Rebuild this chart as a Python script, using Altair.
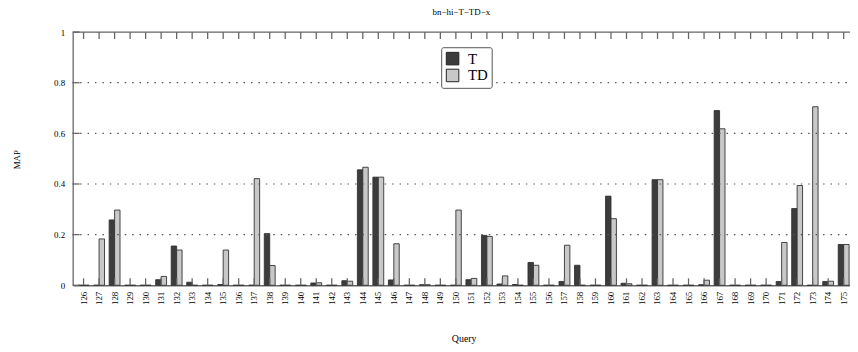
import altair as alt
import pandas as pd

# ---------------- data ----------------
queries = [str(q) for q in range(126, 176)]
series = ["T", "TD"]
t_values = [0, 0, 0.258, 0, 0, 0.022, 0.155, 0.012, 0, 0.003,
            0, 0, 0.204, 0, 0, 0.009, 0, 0.018, 0.456, 0.427,
            0.021, 0, 0.002, 0, 0, 0.022, 0.197, 0.005, 0.003, 0.090,
            0, 0.015, 0.079, 0, 0.352, 0.008, 0, 0.417, 0, 0,
            0.002, 0.690, 0, 0, 0, 0.015, 0.303, 0, 0.015, 0.161]
td_values = [0, 0.183, 0.297, 0, 0, 0.035, 0.139, 0, 0, 0.139,
             0, 0.421, 0.078, 0, 0, 0.010, 0, 0.016, 0.466, 0.427,
             0.164, 0, 0.002, 0, 0.297, 0.027, 0.193, 0.037, 0, 0.079,
             0, 0.158, 0, 0, 0.263, 0.006, 0, 0.417, 0, 0,
             0.020, 0.618, 0, 0, 0, 0.169, 0.394, 0.705, 0.016, 0.161]
y_ticks = [0, 0.2, 0.4, 0.6, 0.8, 1.0]
grid_values = [0.2, 0.4, 0.6, 0.8]

# ---------------- layout ----------------
W = 784.7
H = 255.6
FONT = "Liberation Serif"
AXIS_COLOR = "#666666"

bars_df = pd.DataFrame({
    "Query": queries * 2,
    "Series": ["T"] * len(queries) + ["TD"] * len(queries),
    "MAP": t_values + td_values,
})
q_df = pd.DataFrame({"Query": queries})
yt_df = pd.DataFrame({"MAP": y_ticks})
grid_df = pd.DataFrame({"MAP": grid_values})
one_df = pd.DataFrame({"a": [0]})

x_scale = alt.Scale(domain=queries, range=[0, 789.3], paddingInner=0.3, paddingOuter=0.352)
y_scale = alt.Scale(domain=[0, 1], nice=False, zero=True)

x_axis = alt.Axis(title="Query", labelAngle=-90, ticks=False, tickSize=0,
                  labelPadding=6, labelFont=FONT, labelFontSize=9,
                  labelColor="black", domainColor=AXIS_COLOR, domainWidth=1.3,
                  titleFont=FONT, titleFontSize=10, titleFontWeight="normal",
                  titleColor="black", titleX=394.7, titleY=57,
                  titleBaseline="alphabetic", labelOverlap=False, grid=False)
y_axis = alt.Axis(title="MAP", values=y_ticks, format="~g", grid=False,
                  ticks=False, tickSize=0, labelPadding=8,
                  labelFont=FONT, labelFontSize=9, labelColor="black",
                  domainColor=AXIS_COLOR, domainWidth=1.3,
                  titleFont=FONT, titleFontSize=9, titleFontWeight="normal",
                  titleColor="black", titleX=-57, titleY=128.3, titleAlign="center",
                  titleBaseline="middle")

X = alt.X("Query:N", scale=x_scale, sort=queries, axis=x_axis)
Y = alt.Y("MAP:Q", scale=y_scale, axis=y_axis)

bars = alt.Chart(bars_df).mark_bar(stroke="#333333", strokeWidth=0.9).encode(
    x=X,
    xOffset=alt.XOffset("Series:N", scale=alt.Scale(domain=series, paddingInner=0, paddingOuter=0)),
    y=Y,
    fill=alt.Fill("Series:N", scale=alt.Scale(domain=series, range=["#3c3c3c", "#c8c8c8"]),
                  legend=alt.Legend(title=None, orient="none", legendX=372, legendY=15.3)),
)

grid = alt.Chart(grid_df).mark_rule(color="#555555", strokeDash=[1.5, 6], strokeWidth=1.2).encode(
    y=Y, x=alt.value(0), x2=alt.value(W),
)

left_ticks = alt.Chart(yt_df).mark_rule(color=AXIS_COLOR, strokeWidth=1.3).encode(
    y=Y, x=alt.value(0), x2=alt.value(7),
)

bottom_ticks = alt.Chart(q_df).mark_rule(color=AXIS_COLOR, strokeWidth=1.3).encode(
    x=X, y=alt.value(H), y2=alt.value(H - 7),
)

top_ticks = alt.Chart(q_df).mark_rule(color=AXIS_COLOR, strokeWidth=1.3).encode(
    x=X, y=alt.value(0), y2=alt.value(7),
)

top_border = alt.Chart(one_df).mark_rule(color=AXIS_COLOR, strokeWidth=1.3).encode(
    x=alt.value(0), x2=alt.value(W + 10), y=alt.value(0),
)

chart = alt.layer(bars, grid, left_ticks, bottom_ticks, top_ticks, top_border).properties(
    width=W,
    height=H,
    title=alt.Title("bn\u2212hi\u2212T\u2212TD\u2212x", font=FONT, fontSize=9,
                    fontWeight="normal", color="black", anchor="middle", offset=11),
    autosize=alt.AutoSizeParams(type="none"),
    padding={"left": 65.3, "top": 22.7, "right": 0, "bottom": 58.7},
).configure_view(stroke=None).configure_legend(
    symbolType="square", symbolSize=160, symbolStrokeColor="#222222",
    symbolStrokeWidth=1, labelFont=FONT, labelFontSize=15, labelColor="black",
    labelOffset=8, padding=4, strokeColor="#555555", fillColor="white",
    rowPadding=0, cornerRadius=2,
)

chart.save("out.html", embed_options={"renderer": "svg", "actions": False})
